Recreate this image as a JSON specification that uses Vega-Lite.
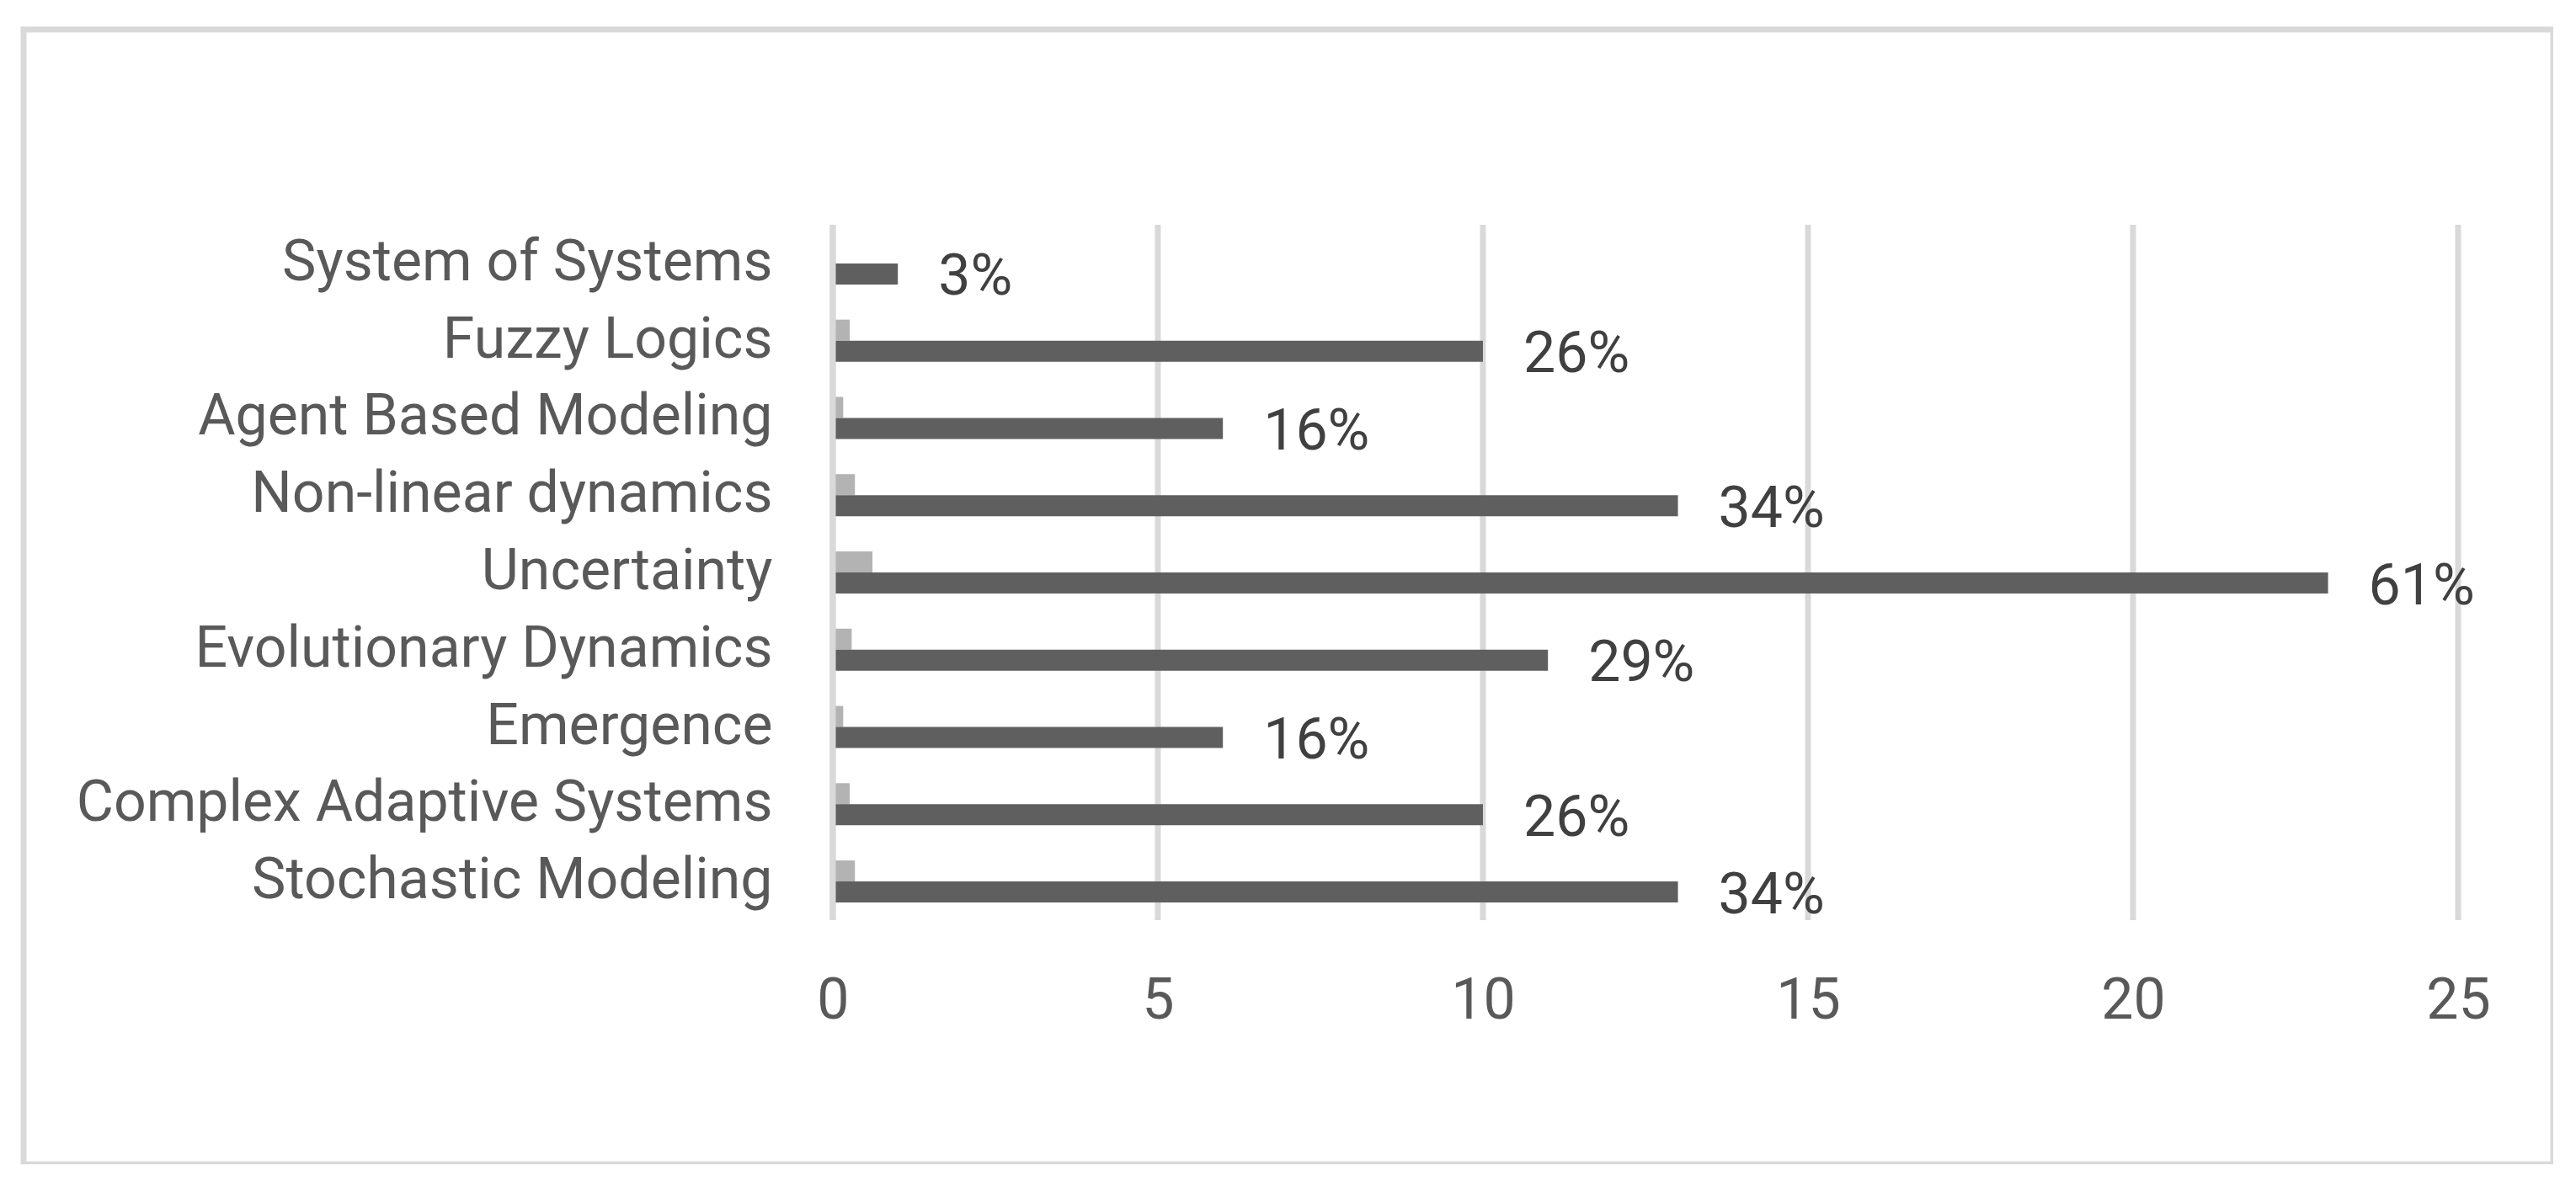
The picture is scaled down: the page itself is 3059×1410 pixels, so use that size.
{
  "$schema": "https://vega.github.io/schema/vega-lite/v6.json",
  "width": 3004,
  "height": 1348,
  "autosize": {"type": "none"},
  "padding": {"left": 28, "top": 35, "right": 0, "bottom": 0},
  "background": "white",
  "config": {
    "view": {"stroke": "#d9d9d9", "strokeWidth": 7},
    "font": "Roboto"
  },
  "datasets": {
    "topics": [
      {"topic": "Stochastic Modeling", "count": 13, "share": 0.34},
      {"topic": "Complex Adaptive Systems", "count": 10, "share": 0.26},
      {"topic": "Emergence", "count": 6, "share": 0.16},
      {"topic": "Evolutionary Dynamics", "count": 11, "share": 0.29},
      {"topic": "Uncertainty", "count": 23, "share": 0.61},
      {"topic": "Non-linear dynamics", "count": 13, "share": 0.34},
      {"topic": "Agent Based Modeling", "count": 6, "share": 0.16},
      {"topic": "Fuzzy Logics", "count": 10, "share": 0.26},
      {"topic": "System of Systems", "count": 1, "share": 0.03}
    ],
    "grid": [{"g": 0}, {"g": 5}, {"g": 10}, {"g": 15}, {"g": 20}, {"g": 25}],
    "axisline": [{"g": 0}]
  },
  "layer": [
    {
      "data": {"name": "grid"},
      "mark": {"type": "rule", "color": "#d9d9d9", "strokeWidth": 7, "yOffset": -20.9, "y2Offset": 20.9},
      "encoding": {
        "x": {"field": "g", "type": "quantitative",
              "scale": {"domain": [-12.448, 26.464], "nice": false, "zero": false}},
        "y": {"datum": "System of Systems", "type": "nominal", "bandPosition": 0,
              "scale": {"domain": ["System of Systems", "Fuzzy Logics", "Agent Based Modeling", "Non-linear dynamics", "Uncertainty", "Evolutionary Dynamics", "Emergence", "Complex Adaptive Systems", "Stochastic Modeling"],
                        "range": [232, 1058], "paddingInner": 0.4552, "paddingOuter": 0.2276, "round": false}},
        "y2": {"datum": "Stochastic Modeling", "bandPosition": 1}
      }
    },
    {
      "data": {"name": "topics"},
      "transform": [{"fold": ["share", "count"], "as": ["series", "value"]}],
      "mark": {"type": "bar"},
      "encoding": {
        "x": {"field": "value", "type": "quantitative",
              "axis": {"values": [0, 5, 10, 15, 20, 25], "format": "d", "grid": false, "domain": false, "ticks": false, "tickSize": 0,
                       "labelFontSize": 68, "labelColor": "#595959", "labelPadding": 0, "offset": -194,
                       "labelBaseline": "middle", "labelFlush": false, "labelOverlap": false, "title": null}},
        "y": {"field": "topic", "type": "nominal",
              "axis": {"domain": false, "ticks": false, "tickSize": 0, "labelPadding": 0, "offset": -889,
                       "labelFontSize": 68, "labelColor": "#595959", "labelLimit": 3000, "title": null}},
        "yOffset": {"field": "series", "type": "nominal",
                    "scale": {"domain": ["share", "count"], "paddingInner": 0, "paddingOuter": 0}},
        "color": {"field": "series", "type": "nominal",
                  "scale": {"domain": ["share", "count"], "range": ["#b3b3b3", "#5f5f5f"]}, "legend": null}
      }
    },
    {
      "data": {"name": "axisline"},
      "mark": {"type": "rule", "color": "#d9d9d9", "strokeWidth": 7, "yOffset": -20.9, "y2Offset": 20.9},
      "encoding": {
        "x": {"field": "g", "type": "quantitative"},
        "y": {"datum": "System of Systems", "type": "nominal", "bandPosition": 0},
        "y2": {"datum": "Stochastic Modeling", "bandPosition": 1}
      }
    },
    {
      "data": {"name": "topics"},
      "mark": {"type": "text", "align": "left", "baseline": "middle", "dx": 48, "dy": 5, "fontSize": 68, "color": "#404040"},
      "encoding": {
        "x": {"field": "count", "type": "quantitative"},
        "y": {"field": "topic", "type": "nominal"},
        "yOffset": {"datum": "count", "type": "nominal"},
        "text": {"field": "share", "type": "quantitative", "format": ".0%"}
      }
    }
  ]
}
